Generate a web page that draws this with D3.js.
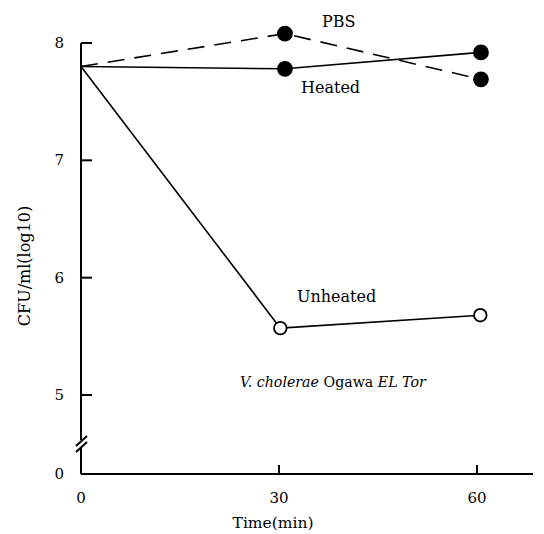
<!DOCTYPE html>
<html><head><meta charset="utf-8">
<script src="https://cdn.jsdelivr.net/npm/d3@7"></script>
<style>body{margin:0;background:#fff}svg{display:block}</style>
</head><body><svg id="c" width="544" height="534"></svg>
<script>
const xTicks = [0, 30, 60];
const yTicks = [0, 5, 6, 7, 8];
const pbsTime = [0, 30.9, 60.6];
const pbsVal = [7.8, 8.08, 7.69];
const heatedTime = [0, 30.9, 60.6];
const heatedVal = [7.8, 7.78, 7.92];
const unheatedTime = [0, 30.2, 60.5];
const unheatedVal = [7.8, 5.57, 5.68];

const FONT = "'DejaVu Serif', serif";
const svg = d3.select("#c");
const x = d3.scaleLinear().domain([0, 60]).range([81, 477]);
const y = d3.scaleLinear().domain([0, 5, 8]).range([474, 395, 43]);

function txt(xp, yp, s, size) {
  return svg.append("text").attr("x", xp).attr("y", yp).attr("font-family", FONT)
    .attr("font-size", size).attr("fill", "#000").text(s);
}

const g = svg.append("g").attr("stroke", "#000").attr("stroke-width", 2).attr("fill", "none");
g.append("line").attr("x1", x(0)).attr("x2", x(0)).attr("y1", y(8)).attr("y2", 440);
g.append("line").attr("x1", x(0)).attr("x2", x(0)).attr("y1", 447).attr("y2", y(0));
g.append("line").attr("x1", 76).attr("y1", 446).attr("x2", 87).attr("y2", 436);
g.append("line").attr("x1", 76).attr("y1", 452).attr("x2", 87).attr("y2", 442);
g.append("line").attr("x1", x(0)).attr("x2", 533).attr("y1", y(0)).attr("y2", y(0));
yTicks.filter(d => d > 0).forEach(d => {
  g.append("line").attr("x1", x(0)).attr("x2", x(0) + 11).attr("y1", y(d)).attr("y2", y(d));
});
xTicks.filter(d => d > 0).forEach(d => {
  g.append("line").attr("x1", x(d)).attr("x2", x(d)).attr("y1", y(0)).attr("y2", y(0) - 9);
});
yTicks.forEach(d => { txt(64, y(d) + 5, d, 15).attr("text-anchor", "end"); });
xTicks.forEach(d => { txt(x(d), 503, d, 15).attr("text-anchor", "middle"); });
txt(273, 528, "Time(min)", 15.5).attr("text-anchor", "middle");
svg.append("text").attr("transform", "translate(30,266) rotate(-90)").attr("text-anchor", "middle")
  .attr("font-family", FONT).attr("font-size", 16).text("CFU/ml(log10)");

const line = d3.line().x(d => x(d[0])).y(d => y(d[1]));
const series = [
  {t: pbsTime, v: pbsVal, dash: "17,10", fill: "#000", r: 7},
  {t: heatedTime, v: heatedVal, dash: null, fill: "#000", r: 7},
  {t: unheatedTime, v: unheatedVal, dash: null, fill: "#fff", r: 6.3}
];
series.forEach(s => {
  const pts = s.t.map((t, i) => [t, s.v[i]]);
  svg.append("path").attr("d", line(pts)).attr("fill", "none").attr("stroke", "#000")
    .attr("stroke-width", 1.6).attr("stroke-dasharray", s.dash);
});
series.forEach(s => {
  const pts = s.t.map((t, i) => [t, s.v[i]]).slice(1);
  svg.selectAll(null).data(pts).enter().append("circle")
    .attr("cx", d => x(d[0])).attr("cy", d => y(d[1])).attr("r", s.r)
    .attr("fill", s.fill).attr("stroke", "#000").attr("stroke-width", 1.8);
});

txt(322, 27, "PBS", 16);
txt(301, 93, "Heated", 16);
txt(297, 302, "Unheated", 16);
const t = txt(240, 387, null, 14.2);
t.append("tspan").attr("font-style", "italic").text("V. cholerae");
t.append("tspan").text(" Ogawa ");
t.append("tspan").attr("font-style", "italic").text("EL Tor");
</script></body></html>
